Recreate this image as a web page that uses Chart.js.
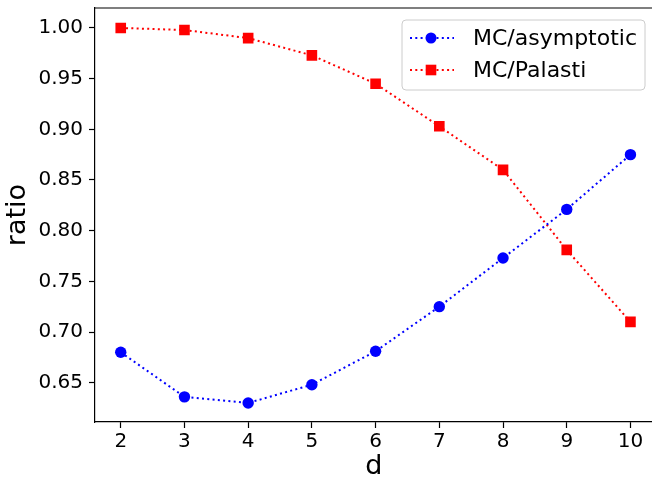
<!DOCTYPE html>
<html>
<head>
<meta charset="utf-8">
<script src="https://cdn.jsdelivr.net/npm/chart.js@4/dist/chart.umd.min.js"></script>
<style>
  html, body { margin: 0; padding: 0; background: #fff; overflow: hidden; }
  #wrap { position: absolute; left: 0; top: 0; width: 660px; height: 480px; }
  #ratioChart { display: block; width: 660px; height: 480px; }
</style>
</head>
<body>
<div id="wrap"><canvas id="ratioChart" width="660" height="480"></canvas></div>
<script>
// data
var dValues = [2, 3, 4, 5, 6, 7, 8, 9, 10];
var mcAsymptotic = [0.680, 0.636, 0.630, 0.648, 0.681, 0.725, 0.773, 0.821, 0.875];
var mcPalasti = [1.000, 0.998, 0.990, 0.973, 0.945, 0.903, 0.860, 0.781, 0.710];
var xTicks = [2, 3, 4, 5, 6, 7, 8, 9, 10];
var yTicks = [0.65, 0.70, 0.75, 0.80, 0.85, 0.90, 0.95, 1.00];

var FONT = 'DejaVu Sans';
var DOTS = [2, 3.3];

function toPoints(ys){
    return dValues.map(function(x, i){ return { x: x, y: ys[i] }; });
}

// top spine (right one falls outside the crop in the original)
var framePlugin = {
    id: 'frame',
    afterDraw: function(chart){
        var a = chart.chartArea, c = chart.ctx;
        c.save();
        c.strokeStyle = '#000';
        c.lineWidth = 1.2;
        c.beginPath();
        c.moveTo(a.left, a.top);
        c.lineTo(chart.width, a.top);
        c.stroke();
        c.restore();
    }
};

// matplotlib style legend: dotted line + marker + label
var legendPlugin = {
    id: 'mplLegend',
    afterDraw: function(chart){
        var c = chart.ctx;
        var bx = 402, by = 20, bw = 243, bh = 70;
        c.save();
        c.beginPath();
        c.roundRect(bx, by, bw, bh, 4);
        c.fillStyle = 'rgba(255,255,255,0.8)';
        c.fill();
        c.strokeStyle = '#cccccc';
        c.lineWidth = 1;
        c.stroke();
        c.font = '22px "' + FONT + '"';
        c.textBaseline = 'middle';
        chart.data.datasets.forEach(function(ds, i){
            var y = 38 + i * 32;
            c.beginPath();
            c.setLineDash(DOTS);
            c.strokeStyle = ds.borderColor;
            c.lineWidth = 2;
            c.moveTo(410, y);
            c.lineTo(454, y);
            c.stroke();
            c.setLineDash([]);
            c.fillStyle = ds.pointBackgroundColor;
            if (ds.pointStyle === 'rect') {
                c.fillRect(431 - 5.3, y - 5.3, 10.6, 10.6);
            } else {
                c.beginPath();
                c.arc(431, y, 5.5, 0, Math.PI * 2);
                c.fill();
            }
            c.fillStyle = '#000';
            c.fillText(ds.label, 473, y + 1);
        });
        c.restore();
    }
};

function noPad(s){
    s.paddingTop = 0; s.paddingBottom = 0; s.paddingLeft = 0; s.paddingRight = 0;
}

var ctx = document.getElementById('ratioChart').getContext('2d');
var chart = new Chart(ctx, {
    type: 'line',
    data: {
        datasets: [
            {
                label: 'MC/asymptotic',
                data: toPoints(mcAsymptotic),
                borderColor: '#0000ff',
                backgroundColor: '#0000ff',
                pointBackgroundColor: '#0000ff',
                pointBorderWidth: 0,
                pointStyle: 'circle',
                pointRadius: 5.7,
                borderWidth: 2,
                borderDash: DOTS,
                tension: 0
            },
            {
                label: 'MC/Palasti',
                data: toPoints(mcPalasti),
                borderColor: '#ff0000',
                backgroundColor: '#ff0000',
                pointBackgroundColor: '#ff0000',
                pointBorderWidth: 0,
                pointStyle: 'rect',
                pointRadius: 7.5,
                borderWidth: 2,
                borderDash: DOTS,
                tension: 0
            }
        ]
    },
    options: {
        responsive: false,
        animation: false,
        layout: { padding: { top: 8, right: 0, left: 0, bottom: 0 } },
        plugins: { legend: { display: false }, tooltip: { enabled: false } },
        scales: {
            x: {
                type: 'linear',
                min: 1.596,
                max: 10.346,
                afterBuildTicks: function(s){ s.ticks = xTicks.map(function(v){ return { value: v }; }); },
                afterFit: function(s){ s.height = 58; noPad(s); },
                grid: { drawOnChartArea: false, tickLength: 6, tickColor: '#000', tickWidth: 1.2 },
                border: { color: '#000', width: 1.2 },
                ticks: { color: '#000', padding: 2, maxRotation: 0, font: { family: FONT, size: 20 } },
                title: { display: true, text: 'd', color: '#000', padding: { top: 0, bottom: 0 }, font: { family: FONT, size: 27, lineHeight: 1 } }
            },
            y: {
                type: 'linear',
                min: 0.6112,
                max: 1.0197,
                afterBuildTicks: function(s){ s.ticks = yTicks.map(function(v){ return { value: v }; }); },
                afterFit: function(s){ s.width = 95; noPad(s); },
                grid: { drawOnChartArea: false, tickLength: 6, tickColor: '#000', tickWidth: 1.2 },
                border: { color: '#000', width: 1.2 },
                ticks: {
                    color: '#000', padding: 6, font: { family: FONT, size: 20 },
                    callback: function(v){ return v.toFixed(2); }
                },
                title: { display: true, text: 'ratio', color: '#000', padding: { top: 2, bottom: 0 }, font: { family: FONT, size: 27 } }
            }
        }
    },
    plugins: [framePlugin, legendPlugin]
});
</script>
</body>
</html>
